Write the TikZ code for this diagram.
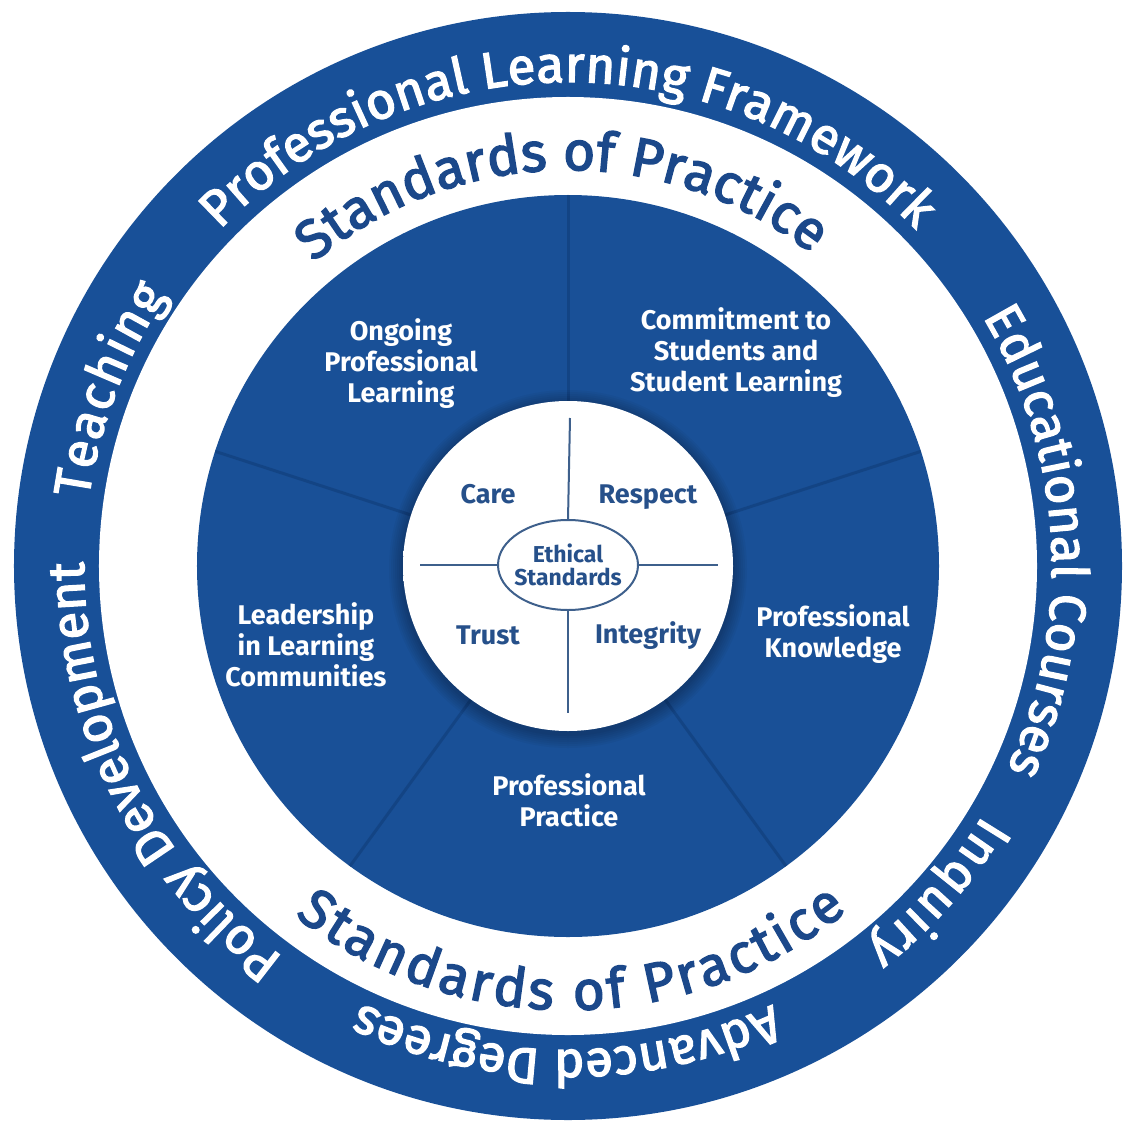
\documentclass[tikz,border=0pt]{standalone}
\usepackage{fontspec}
\setmainfont{Fira Sans}
\newfontfamily\mediumface{Fira Sans}[FakeBold=2.6]
\usetikzlibrary{decorations.text,shapes.geometric}

\definecolor{ringblue}{RGB}{24,80,152}
\definecolor{rimblue}{RGB}{56,118,198}
\definecolor{diskblue}{RGB}{25,80,151}
\definecolor{seamblue}{RGB}{16,60,120}
\definecolor{paleband}{RGB}{240,244,247}
\definecolor{paleedge}{RGB}{222,230,238}
\definecolor{navytext}{RGB}{27,72,138}
\definecolor{coretext}{RGB}{38,80,138}
\definecolor{coreline}{RGB}{62,96,140}
\definecolor{coreedge}{RGB}{212,222,232}

\pgfdeclareradialshading{outershade}{\pgfpoint{0bp}{0bp}}{color(0bp)=(ringblue); color(46bp)=(ringblue); color(49bp)=(rimblue); color(50bp)=(rimblue!75!white)}
\pgfdeclareradialshading{bandshade}{\pgfpoint{0bp}{0bp}}{color(0bp)=(white); color(40bp)=(white); color(45bp)=(paleband); color(50bp)=(paleedge)}
\pgfdeclareradialshading{diskshade}{\pgfpoint{0bp}{0bp}}{color(0bp)=(diskblue); color(45bp)=(diskblue); color(50bp)=(diskblue!88!black)}
\pgfdeclareradialshading{coreshade}{\pgfpoint{0bp}{0bp}}{color(0bp)=(white); color(28bp)=(white); color(50bp)=(coreedge)}

\newcommand\ringfont{\fontsize{25.5}{25.5}\mediumface}
\newcommand\bandfont{\fontsize{27.5}{27.5}\mediumface}

\begin{document}
\begin{tikzpicture}[x=0.5pt,y=0.5pt]
	\tikzset{ringtext/.style = {decorate, decoration={text along path, text align=fit to path, text color=white, text={|\ringfont|#1}}}}
	\tikzset{bandtext/.style = {decorate, decoration={text along path, text align=fit to path, text color=navytext, text={|\bandfont|#1}}}}
	\tikzset{seam/.style = {seamblue, line width=1.5pt, opacity=0.6}}
	\tikzset{sector/.style = {text=white, align=center, font=\fontsize{13.5}{15.5}\selectfont\bfseries}}
	\tikzset{quadrant/.style = {text=coretext, font=\fontsize{13.5}{15}\selectfont\bfseries}}
	\tikzset{ethicoval/.style = {shape=ellipse, draw=coreline, line width=1pt, minimum width=70pt, minimum height=45pt, inner sep=0pt, outer sep=0pt}}
	\tikzset{crossline/.style = {coreline, line width=1pt}}

	\useasboundingbox (-568,-558) rectangle (565,566);

	% rings
	\shade[shading=outershade] (0,0) circle (554);
	\shade[shading=bandshade] (0,0) circle (469);
	\shade[shading=diskshade] (0,0) circle (371);

	\foreach \a in {18,90,162,234,306}
		\draw[seam] (\a:165) -- (\a:371);

	\foreach \s in {2,4,...,14}
		\fill[black, opacity=0.035] (0,-3) circle (165+\s);
	\shade[shading=coreshade] (0,0) circle (165);

	% ring texts
	\path[ringtext={Professional Learning Framework}] (136:484) arc[start angle=136, end angle=44, radius=484];
	\path[ringtext=Teaching] (172:484) arc[start angle=172, end angle=146, radius=484];
	\path[ringtext={Policy Development}] (234:484) arc[start angle=234, end angle=180.5, radius=484];
	\path[ringtext={Advanced Degrees}] (295:484) arc[start angle=295, end angle=246, radius=484];
	\path[ringtext=Inquiry] (329:484) arc[start angle=329, end angle=308, radius=484];
	\path[ringtext={Educational Courses}] (31:484) arc[start angle=31, end angle=-24, radius=484];

	\path[bandtext={Standards of Practice}] (130:396) arc[start angle=130, end angle=52, radius=396];
	\path[bandtext={Standards of Practice}] (232:444) arc[start angle=232, end angle=309, radius=444];

	% standards
	\node[sector] (ongoing) at (-167,202) {Ongoing\\Professional\\Learning};
	\node[sector] (commitment) at (168,213) {Commitment to\\Students and\\Student Learning};
	\node[sector] (leadership) at (-262,-79) {Leadership\\in Learning\\Communities};
	\node[sector] (knowledge) at (265,-68) {Professional\\Knowledge};
	\node[sector] (practice) at (1,-234) {Professional\\Practice};

	% ethical standards
	\node[ethicoval] (ethics) at (0,1) {};
	\node[quadrant, align=center, font=\fontsize{11.5}{11.5}\selectfont\bfseries] (ethicslabel) at (ethics) {Ethical\\Standards};
	\coordinate (crossN) at (2,148);
	\coordinate (crossS) at (0,-147);
	\coordinate (crossW) at (-148,1);
	\coordinate (crossE) at (150,1);
	\draw[crossline] (ethics.north) -- (crossN);
	\draw[crossline] (ethics.south) -- (crossS);
	\draw[crossline] (ethics.west) -- (crossW);
	\draw[crossline] (ethics.east) -- (crossE);

	\node[quadrant] (care) at (-80,72) {Care};
	\node[quadrant] (respect) at (80,69) {Respect};
	\node[quadrant] (trust) at (-80,-69) {Trust};
	\node[quadrant] (integrity) at (80,-70) {Integrity};

\end{tikzpicture}
\end{document}
